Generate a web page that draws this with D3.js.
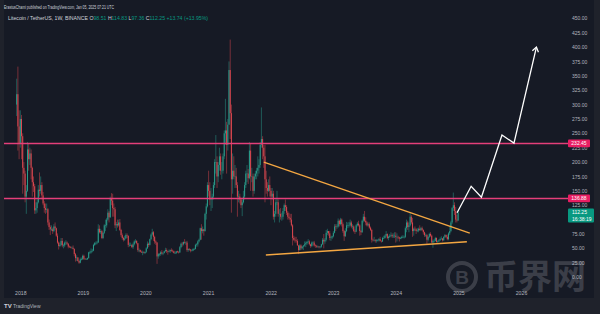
<!DOCTYPE html>
<html>
<head>
<meta charset="utf-8">
<script src="https://cdn.jsdelivr.net/npm/d3@7"></script>
<style>
body { margin: 0; background: #1f222b; }
svg { display: block; }
text { font-family: "Liberation Sans", Arial, sans-serif; }
</style>
</head>
<body>
<script>
// LTC/USDT weekly candles, one row per week: [high, low, close]; open = previous close
var firstOpen = 300;
var weekStarts = ["2017-12-11", "2018-01-01", "2019-01-07", "2020-01-06", "2021-01-04", "2022-01-03", "2023-01-02", "2024-01-01"];
var w2017 = [[345, 280, 318], [366, 220, 262], [290, 205, 232]];
var w2018 = [[290, 225, 275], [282, 205, 245], [250, 145, 190], [200, 160, 180], [185, 130, 140],
    [160, 110, 150], [235, 148, 222], [232, 185, 205], [225, 195, 215],
    [222, 170, 190], [192, 140, 165], [175, 148, 158], [162, 110, 116],
    [130, 110, 120], [135, 112, 130], [160, 128, 152], [182, 140, 150], [175, 145, 160],
    [165, 135, 142], [148, 125, 128], [132, 112, 120], [128, 110, 117],
    [128, 112, 118], [120, 90, 95], [100, 82, 87], [90, 73, 83],
    [90, 80, 83], [86, 75, 80], [92, 78, 88], [95, 82, 85], [86, 70, 72],
    [76, 58, 60], [62, 48, 54], [60, 52, 56], [68, 55, 63],
    [68, 52, 55], [58, 50, 55], [62, 52, 60], [64, 56, 60],
    [62, 56, 58], [59, 50, 53], [55, 51, 52], [54, 50, 51], [53, 50, 51],
    [55, 48, 49], [50, 36, 40], [42, 27, 33], [38, 28, 34],
    [35, 27, 28], [29, 23, 25], [34, 24, 31], [34, 29, 31], [39, 30, 37]];
var w2019 = [[39, 30, 32], [33, 30, 31], [33, 30, 31], [34, 30, 33],
    [44, 32, 43], [46, 40, 43], [50, 41, 45], [49, 43, 46],
    [58, 45, 56], [61, 54, 59], [62, 56, 59], [63, 57, 60],
    [92, 60, 84], [90, 76, 78], [84, 75, 80], [82, 66, 68], [78, 66, 77],
    [92, 75, 90], [100, 80, 90], [103, 86, 100], [118, 98, 112],
    [115, 95, 104], [140, 103, 137], [146, 125, 133], [145, 105, 120],
    [128, 105, 118], [122, 85, 90], [96, 80, 92], [100, 86, 90], [100, 88, 95],
    [101, 80, 82], [84, 70, 73], [76, 65, 68], [70, 62, 65],
    [72, 63, 67], [76, 67, 73], [76, 68, 72], [72, 52, 56], [60, 53, 56],
    [60, 54, 56], [57, 51, 52], [60, 49, 57], [64, 55, 62],
    [66, 59, 63], [64, 57, 59], [59, 44, 47], [50, 43, 47],
    [48, 43, 44], [46, 42, 43], [46, 38, 43], [45, 41, 42], [44, 40, 44]];
var w2020 = [[52, 42, 50], [62, 49, 58], [60, 52, 56], [67, 55, 66],
    [76, 64, 74], [84, 72, 78], [80, 63, 70], [72, 58, 62],
    [64, 56, 60], [61, 23, 36], [42, 32, 40], [42, 36, 40], [45, 37, 43],
    [47, 39, 41], [43, 38, 42], [46, 41, 45], [51, 44, 47],
    [50, 42, 45], [46, 39, 44], [48, 43, 45], [48, 42, 47],
    [50, 44, 46], [48, 43, 45], [46, 41, 42], [44, 40, 42], [45, 40, 45],
    [46, 42, 44], [45, 41, 43], [54, 42, 52], [60, 50, 58],
    [61, 53, 57], [62, 55, 61], [66, 58, 60], [62, 56, 60], [63, 44, 47],
    [50, 44, 49], [50, 46, 48], [49, 43, 46], [48, 45, 46],
    [50, 45, 49], [51, 47, 49], [58, 48, 56], [59, 53, 57],
    [64, 53, 62], [67, 60, 65], [86, 64, 85], [92, 65, 80], [88, 76, 83],
    [84, 72, 80], [112, 79, 110], [128, 100, 123], [165, 121, 160]];
var w2021 = [[185, 140, 150], [165, 125, 135], [155, 115, 135], [145, 120, 140],
    [165, 135, 160], [205, 155, 200], [247, 180, 200], [210, 155, 175],
    [200, 165, 195], [225, 185, 210], [215, 178, 185], [200, 170, 185], [215, 180, 210],
    [255, 205, 250], [310, 230, 255], [270, 180, 230], [275, 220, 265],
    [375, 265, 360], [413, 240, 285], [300, 112, 170], [215, 145, 185], [210, 170, 175],
    [195, 155, 175], [190, 155, 160], [165, 105, 140], [150, 130, 140],
    [145, 128, 135], [138, 120, 125], [135, 106, 130], [150, 128, 140],
    [165, 135, 160], [185, 155, 180], [195, 165, 180], [188, 162, 172], [235, 170, 220],
    [232, 150, 175], [190, 165, 175], [180, 140, 150], [180, 145, 175],
    [185, 170, 180], [190, 170, 185], [210, 175, 190], [205, 180, 195],
    [235, 190, 230], [295, 225, 240], [245, 205, 225], [230, 190, 210], [230, 130, 170],
    [185, 145, 155], [165, 140, 150], [170, 148, 160], [175, 140, 150]];
var w2022 = [[155, 125, 140], [155, 135, 145], [150, 100, 105], [115, 95, 110], [135, 105, 130],
    [150, 125, 130], [135, 105, 110], [118, 95, 110], [120, 100, 105],
    [112, 98, 105], [120, 100, 115], [128, 110, 125], [135, 115, 122],
    [125, 108, 112], [115, 100, 105], [112, 100, 103], [110, 95, 100],
    [110, 88, 90], [92, 55, 68], [72, 63, 65], [70, 60, 64], [70, 60, 63],
    [66, 55, 55], [56, 40, 47], [57, 46, 55], [57, 47, 50],
    [54, 48, 53], [56, 47, 55], [62, 53, 57], [62, 52, 59],
    [63, 56, 61], [66, 58, 62], [64, 55, 57], [58, 51, 54], [62, 52, 60],
    [62, 55, 60], [63, 53, 55], [57, 51, 54], [56, 51, 53],
    [55, 51, 53], [54, 50, 52], [54, 50, 53], [58, 51, 57], [68, 56, 65],
    [75, 50, 62], [68, 58, 65], [82, 62, 77], [84, 73, 80],
    [80, 72, 76], [80, 64, 68], [72, 63, 69], [72, 66, 71]];
var w2023 = [[80, 69, 77], [92, 76, 88], [92, 80, 87], [92, 84, 88], [102, 86, 98],
    [100, 88, 92], [103, 90, 100], [102, 88, 92], [95, 77, 80],
    [82, 63, 71], [85, 70, 80], [96, 78, 90], [95, 85, 90],
    [96, 86, 90], [100, 88, 95], [98, 85, 88], [92, 83, 88],
    [90, 78, 80], [83, 75, 79], [92, 78, 90], [96, 88, 93], [98, 88, 90],
    [92, 72, 80], [82, 73, 78], [100, 77, 98], [110, 95, 105],
    [115, 96, 98], [104, 90, 95], [97, 88, 90], [95, 88, 92], [95, 84, 86],
    [88, 80, 82], [84, 60, 65], [67, 62, 64], [70, 62, 64],
    [66, 60, 63], [66, 60, 64], [66, 62, 64], [68, 62, 66],
    [70, 62, 63], [64, 60, 62], [70, 61, 68], [72, 66, 68], [74, 67, 72],
    [80, 70, 75], [76, 66, 68], [72, 64, 70], [75, 68, 72],
    [78, 70, 73], [76, 68, 71], [76, 68, 72], [78, 68, 72]];
var w2024 = [[78, 60, 70], [76, 62, 70], [72, 66, 69], [70, 62, 67], [70, 66, 68],
    [72, 66, 70], [73, 68, 70], [72, 67, 70], [88, 68, 85],
    [100, 78, 95], [98, 82, 87], [95, 78, 90], [112, 88, 105],
    [108, 92, 95], [103, 70, 80], [86, 72, 84], [88, 80, 83], [85, 75, 80],
    [85, 78, 81], [86, 78, 84], [90, 80, 82], [87, 80, 85],
    [88, 80, 82], [83, 74, 78], [79, 70, 73], [76, 70, 73],
    [75, 58, 65], [71, 62, 70], [77, 68, 75], [78, 70, 72], [74, 60, 60],
    [65, 51, 63], [66, 60, 63], [70, 62, 68], [69, 60, 61],
    [64, 59, 62], [66, 61, 64], [69, 63, 66], [71, 65, 67], [68, 62, 64],
    [71, 63, 70], [75, 68, 73], [74, 68, 70], [74, 64, 66],
    [78, 64, 76], [88, 73, 80], [98, 78, 95], [122, 92, 120],
    [147, 115, 125], [130, 108, 115], [122, 95, 100], [108, 95, 98.51], [114.83, 97.36, 112.25]];
var weeksByYear = [w2017, w2018, w2019, w2020, w2021, w2022, w2023, w2024];

// drawings on the chart
var levels = [232.45, 136.88];
var trendUpper = [["2021-11-22", 200], ["2025-03-08", 76.5]];
var trendLower = [["2021-12-04", 38.4], ["2025-02-19", 61.5]];
var forecast = [["2024-12-24", 112], ["2025-03-16", 158], ["2025-05-15", 139], ["2025-09-12", 247], ["2025-11-21", 233], ["2026-04-01", 400]];

// axes
var priceTicks = [0, 25, 50, 75, 100, 125, 150, 175, 200, 225, 250, 275, 300, 325, 350, 375, 400, 425, 450];
var yearTicks = ["2018", "2019", "2020", "2021", "2022", "2023", "2024", "2025", "2026"];

var parse = d3.timeParse("%Y-%m-%d");

function drawChart() {
    var svg = d3.select('body').append('svg').attr('width', 600).attr('height', 314);
    svg.append('rect').attr('width', 600).attr('height', 314).attr('fill', '#1f222b');
    svg.append('rect').attr('x', 4).attr('y', 0).attr('width', 590).attr('height', 298).attr('fill', '#161a25');

    var x = d3.scaleTime().domain([new Date(2018, 0, 1), new Date(2026, 0, 1)]).range([20.3, 521]);
    var y = d3.scaleLinear().domain([0, 450]).range([277.1, 18.3]);
    var upColor = '#2a9d8c', downColor = '#d9474f';

    // candles
    var candles = [], prev = firstOpen;
    weeksByYear.forEach(function (rows, k) {
        var start = parse(weekStarts[k]);
        rows.forEach(function (r, i) {
            candles.push({ date: d3.timeDay.offset(start, 7 * i), open: prev, high: r[0], low: r[1], close: r[2] });
            prev = r[2];
        });
    });
    var g = svg.append('g');
    g.selectAll('line').data(candles).enter().append('line')
        .attr('x1', d => x(d.date)).attr('x2', d => x(d.date))
        .attr('y1', d => y(d.high)).attr('y2', d => y(d.low))
        .attr('stroke', d => d.close >= d.open ? upColor : downColor).attr('stroke-width', 0.5);
    g.selectAll('rect').data(candles).enter().append('rect')
        .attr('x', d => x(d.date) - 0.5).attr('width', 1)
        .attr('y', d => y(Math.max(d.open, d.close)))
        .attr('height', d => Math.max(0.5, Math.abs(y(d.open) - y(d.close))))
        .attr('fill', d => d.close >= d.open ? upColor : downColor);

    // horizontal levels
    svg.selectAll('.level').data(levels).enter().append('line').attr('class', 'level')
        .attr('x1', 4).attr('x2', 568).attr('y1', d => y(d)).attr('y2', d => y(d))
        .attr('stroke', '#e43f7a').attr('stroke-width', 1.5);

    // triangle trendlines
    [trendUpper, trendLower].forEach(function (t) {
        svg.append('line')
            .attr('x1', x(parse(t[0][0]))).attr('y1', y(t[0][1]))
            .attr('x2', x(parse(t[1][0]))).attr('y2', y(t[1][1]))
            .attr('stroke', '#f4a742').attr('stroke-width', 1.3);
    });

    // forecast path with arrow head
    var pts = forecast.map(p => [x(parse(p[0])), y(p[1])]);
    svg.append('path').attr('d', d3.line()(pts)).attr('fill', 'none')
        .attr('stroke', '#ffffff').attr('stroke-width', 1.3).attr('stroke-linejoin', 'miter');
    var tip = pts[pts.length - 1], from = pts[pts.length - 2];
    var ang = Math.atan2(tip[1] - from[1], tip[0] - from[0]);
    var head = [ang + Math.PI - 0.6, ang + Math.PI + 0.6].map(a => [tip[0] + 5.5 * Math.cos(a), tip[1] + 5.5 * Math.sin(a)]);
    svg.append('path').attr('d', d3.line()([head[0], tip, head[1]])).attr('fill', 'none')
        .attr('stroke', '#ffffff').attr('stroke-width', 1.3);

    // watermark (under the axis labels, as in the screenshot)
    var wm = svg.append('g').attr('opacity', 0.28);
    wm.append('circle').attr('cx', 462).attr('cy', 277).attr('r', 14).attr('fill', 'none')
        .attr('stroke', '#9a9ca3').attr('stroke-width', 4);
    wm.append('text').attr('x', 462).attr('y', 284).attr('text-anchor', 'middle').attr('fill', '#9a9ca3')
        .style('font-size', '19px').style('font-weight', 'bold').text('B');
    wm.append('text').attr('x', 484).attr('y', 289).attr('fill', '#9a9ca3')
        .style('font-family', '"Noto Sans CJK SC"').style('font-size', '34px').style('font-weight', 'bold').text('币界网');

    // price axis
    var yAxis = svg.append('g').attr('transform', 'translate(572,0)')
        .call(d3.axisRight(y).tickValues(priceTicks).tickFormat(d3.format('.2f')).tickSize(0).tickPadding(0));
    yAxis.select('.domain').remove();
    yAxis.selectAll('text').attr('fill', '#b2b5be').style('font-size', '5px').attr('font-family', null);

    // time axis
    var xAxis = svg.append('g').attr('transform', 'translate(0,291)')
        .call(d3.axisBottom(x).tickValues(yearTicks.map(s => parse(s + '-01-01'))).tickFormat(d3.timeFormat('%Y')).tickSize(0).tickPadding(0));
    xAxis.select('.domain').remove();
    xAxis.selectAll('text').attr('fill', '#b2b5be').style('font-size', '5.2px').attr('font-family', null);

    // price tags
    levels.forEach(function (v) {
        svg.append('rect').attr('x', 568).attr('y', y(v) - 3.8).attr('width', 22).attr('height', 7.6)
            .attr('rx', 1).attr('fill', '#e91e63');
        svg.append('text').attr('x', 579).attr('y', y(v) + 1.8).attr('text-anchor', 'middle')
            .attr('fill', '#ffffff').style('font-size', '5px').text(v.toFixed(2));
    });
    var last = candles[candles.length - 1].close;
    svg.append('rect').attr('x', 568).attr('y', y(last) - 4).attr('width', 26).attr('height', 14)
        .attr('rx', 1).attr('fill', '#089981');
    svg.append('text').attr('x', 572).attr('y', y(last) + 1.8).attr('fill', '#ffffff').style('font-size', '5px').text(last.toFixed(2));
    svg.append('text').attr('x', 572).attr('y', y(last) + 8).attr('fill', '#ffffff').style('font-size', '5px').text('16:38:19');

    // header
    svg.append('text').attr('x', 4).attr('y', 8.5).attr('fill', '#d1d4dc').style('font-size', '5.6px')
        .attr('textLength', 110).attr('lengthAdjust', 'spacingAndGlyphs')
        .text('ErastusChami published on TradingView.com, Jan 05, 2025 07:21 UTC');
    var legend = svg.append('text').attr('x', 8).attr('y', 20).style('font-size', '5px')
        .attr('textLength', 200).attr('lengthAdjust', 'spacingAndGlyphs');
    var c = candles[candles.length - 1];
    var parts = [['Litecoin / TetherUS, 1W, BINANCE  O', '#d1d4dc'], [c.open.toFixed(2), '#089981'],
        [' H', '#d1d4dc'], [c.high.toFixed(2), '#089981'], [' L', '#d1d4dc'], [c.low.toFixed(2), '#089981'],
        [' C', '#d1d4dc'], [c.close.toFixed(2), '#089981'], [' +13.74 (+13.95%)', '#089981']];
    parts.forEach(p => legend.append('tspan').attr('fill', p[1]).text(p[0]));

    // TradingView logo
    svg.append('text').attr('x', 4).attr('y', 308).attr('fill', '#d1d4dc').style('font-size', '6px').style('font-weight', 'bold').text('TV');
    svg.append('text').attr('x', 13).attr('y', 308).attr('fill', '#b2b5be').style('font-size', '5px').text('TradingView');
}

window.onload = () => {
    drawChart();
}
</script>
</body>
</html>
